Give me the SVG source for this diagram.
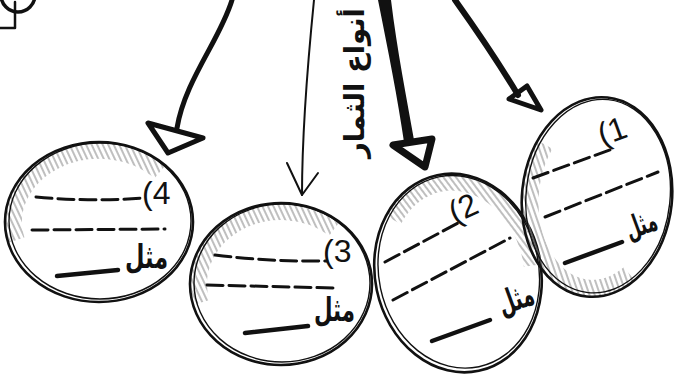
<svg xmlns="http://www.w3.org/2000/svg" width="675" height="382" viewBox="0 0 675 382">
<defs>
<style>
.ol{fill:none;stroke:#111;stroke-width:2.6}
.ol2{fill:none;stroke:#111;stroke-width:1.4}
.dash{fill:none;stroke:#111;stroke-width:3;stroke-dasharray:16 6;stroke-linecap:round}
.solid{fill:none;stroke:#111;stroke-width:4.5;stroke-linecap:round}
.hat{fill:none;stroke:url(#hatch);stroke-width:34}
.num{font-family:"Liberation Sans",Arial,sans-serif;font-size:32px;fill:#111}
.ar{font-family:"DejaVu Sans","Noto Sans",sans-serif;font-size:33px;fill:#111;font-weight:bold}
.arr{fill:none;stroke:#111;stroke-linecap:round;stroke-linejoin:round}
</style>
<pattern id="hatch" width="5" height="5" patternUnits="userSpaceOnUse" patternTransform="rotate(-25)">
<line x1="1" y1="0" x2="1" y2="5" stroke="#8a8a8a" stroke-width="1.1"/>
</pattern>
<clipPath id="c4"><ellipse cx="0" cy="0" rx="94" ry="80"/></clipPath>
<clipPath id="c3"><ellipse cx="0" cy="0" rx="91" ry="81"/></clipPath>
<clipPath id="c2"><ellipse cx="0" cy="0" rx="83" ry="100"/></clipPath>
<clipPath id="c1"><ellipse cx="0" cy="0" rx="75" ry="100"/></clipPath>
</defs>
<rect width="675" height="382" fill="#fff"/>

<g id="corner">
<circle cx="18" cy="-5" r="17" class="arr" stroke-width="3.5"/>
<path d="M15,2 L15,28 L0,28" class="arr" stroke-width="2.5"/>
</g>

<g id="connectors">
<path d="M232,0 C220,40 185,80 177,128" class="arr" stroke-width="5"/>
<path d="M148,123 L203,138 L168,153 Z" class="arr" stroke-width="5" fill="#fff"/>
<path d="M314,0 C308,60 302,130 302,195" class="arr" stroke-width="2"/>
<path d="M287,163 L302,195 L318,173" class="arr" stroke-width="2"/>
<path d="M378,0 L391,0 C397,50 407,100 414,140 L404,142 C398,100 388,50 378,0 Z" fill="#111"/>
<path d="M393,145 L432,139 L425,167 Z" class="arr" stroke-width="7" fill="#fff"/>
<path d="M455,0 C480,35 500,65 518,95" class="arr" stroke-width="6"/>
<path d="M509,99 L527,86 L541,110 Z" class="arr" stroke-width="5" fill="#fff"/>
</g>

<g id="title">
<text class="ar" transform="translate(364,83) rotate(-90)" text-anchor="middle" textLength="150" lengthAdjust="spacingAndGlyphs" style="font-size:28px">أنواع الثمار</text>
</g>

<g id="node4">
<g transform="translate(99,222)">
<path d="M-90.8,20.7 A94,80 0 0 1 66.5,-56.6" class="hat" clip-path="url(#c4)"/>
<ellipse cx="0" cy="0" rx="94" ry="80" class="ol"/>
<ellipse cx="1" cy="-1" rx="91" ry="78" class="ol2"/>
</g>
<path d="M36,197 Q90,202 143,198" class="dash"/>
<path d="M32,230 L165,229" class="dash"/>
<path d="M57,276 L118,270" class="solid"/>
<text class="num" x="142" y="204">(4</text>
<text class="ar" x="125" y="268" textLength="43" lengthAdjust="spacingAndGlyphs">مثل</text>
</g>

<g id="node3">
<g transform="translate(281,284)">
<path d="M-87.9,21 A91,81 0 0 1 58.5,-62" class="hat" clip-path="url(#c3)"/>
<ellipse cx="0" cy="0" rx="91" ry="81" class="ol"/>
<ellipse cx="1" cy="-1" rx="88" ry="79" class="ol2"/>
</g>
<path d="M215,255 Q270,262 327,261" class="dash"/>
<path d="M207,285 L333,288" class="dash"/>
<path d="M245,333 L308,326" class="solid"/>
<text class="num" x="323" y="262">(3</text>
<text class="ar" x="314" y="321" textLength="41" lengthAdjust="spacingAndGlyphs">مثل</text>
</g>

<g id="node2">
<g transform="translate(458,273) rotate(-12)">
<path d="M-58.7,-70.7 A83,100 0 0 1 82.7,8.7" class="hat" clip-path="url(#c2)"/>
<ellipse cx="0" cy="0" rx="83" ry="100" class="ol"/>
<ellipse cx="1" cy="-1" rx="80" ry="97" class="ol2"/>
</g>
<path d="M385,262 L458,223" class="dash"/>
<path d="M393,300 L510,238" class="dash"/>
<path d="M432,341 L490,320" class="solid"/>
<text class="num" transform="translate(463,208) rotate(-25)" x="-14" y="11">(2</text>
<text class="ar" transform="translate(516,300) rotate(-20)" x="-18" y="10" textLength="36" lengthAdjust="spacingAndGlyphs">مثل</text>
</g>

<g id="node1">
<g transform="translate(597,197) rotate(6)">
<path d="M46.2,78.8 A75,100 0 0 1 -65,-50" class="hat" clip-path="url(#c1)"/>
<ellipse cx="0" cy="0" rx="75" ry="100" class="ol"/>
<ellipse cx="1" cy="-1" rx="72" ry="97" class="ol2"/>
</g>
<path d="M533,178 L615,148" class="dash"/>
<path d="M545,217 L658,172" class="dash"/>
<path d="M565,263 L622,242" class="solid"/>
<text class="num" transform="translate(612,131) rotate(-20)" x="-14" y="11">(1</text>
<text class="ar" transform="translate(641,225) rotate(-20)" x="-16" y="10" textLength="32" lengthAdjust="spacingAndGlyphs" style="font-size:31px">مثل</text>
</g>
</svg>
